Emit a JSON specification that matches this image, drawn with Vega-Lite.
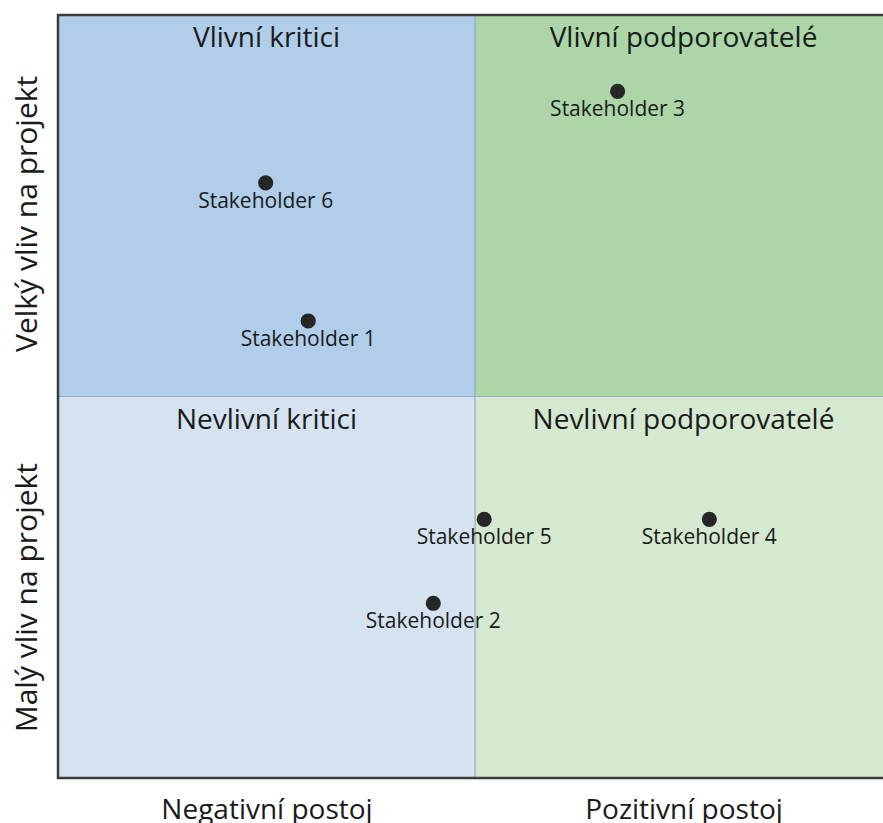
{
  "$schema": "https://vega.github.io/schema/vega-lite/v6.json",
  "width": 834,
  "height": 763,
  "autosize": {"type": "none"},
  "padding": {"left": 58, "top": 15, "right": 0, "bottom": 45},
  "background": "white",
  "view": {"stroke": null},
  "config": {
    "view": {"stroke": null},
    "font": "Open Sans",
    "axis": {"grid": false, "domain": false, "ticks": false, "tickSize": 0, "title": null, "labelFont": "Open Sans", "labelFontSize": 28, "labelColor": "#1a1a1a", "labelFlush": false, "labelOverlap": false, "labelBound": false, "labelLimit": 0}
  },
  "datasets": {
    "quadrants": [
      {"x": 0, "x2": 5, "cx": 2.5, "y": 5, "y2": 10, "name": "Vlivní kritici", "color": "#b0cde9"},
      {"x": 5, "x2": 10, "cx": 7.5, "y": 5, "y2": 10, "name": "Vlivní podporovatelé", "color": "#acd6a8"},
      {"x": 0, "x2": 5, "cx": 2.5, "y": 0, "y2": 5, "name": "Nevlivní kritici", "color": "#d5e2f0"},
      {"x": 5, "x2": 10, "cx": 7.5, "y": 0, "y2": 5, "name": "Nevlivní podporovatelé", "color": "#d4e9cf"}
    ],
    "lines": [
      {"x": 5, "x2": 5, "y": 0, "y2": 10},
      {"x": 0, "x2": 10, "y": 5, "y2": 5}
    ],
    "frame": [
      {"x": 0, "x2": 10, "y": 0, "y2": 10}
    ],
    "stakeholders": [
      {"name": "Stakeholder 1", "postoj": 3.0, "vliv": 5.99},
      {"name": "Stakeholder 2", "postoj": 4.5, "vliv": 2.29},
      {"name": "Stakeholder 3", "postoj": 6.71, "vliv": 9.0},
      {"name": "Stakeholder 4", "postoj": 7.81, "vliv": 3.39},
      {"name": "Stakeholder 5", "postoj": 5.11, "vliv": 3.39},
      {"name": "Stakeholder 6", "postoj": 2.49, "vliv": 7.8}
    ]
  },
  "layer": [
    {
      "data": {"name": "quadrants"},
      "mark": {"type": "rect"},
      "encoding": {
        "x": {"field": "x", "type": "quantitative", "scale": {"domain": [0, 10], "nice": false, "zero": false},
              "axis": {"values": [2.5, 7.5], "labelPadding": 40, "labelBaseline": "alphabetic", "labelAlign": "center",
                       "labelExpr": "datum.value < 5 ? 'Negativní postoj' : 'Pozitivní postoj'"}},
        "x2": {"field": "x2"},
        "y": {"field": "y", "type": "quantitative", "scale": {"domain": [0, 10], "nice": false, "zero": false},
              "axis": {"values": [2.37, 7.4], "labelFontSize": 30, "labelAngle": -90, "labelAlign": "center", "labelBaseline": "alphabetic", "labelPadding": 22,
                       "labelExpr": "datum.value > 5 ? 'Velký vliv na projekt' : 'Malý vliv na projekt'"}},
        "y2": {"field": "y2"},
        "color": {"field": "color", "type": "nominal", "scale": null}
      }
    },
    {
      "data": {"name": "lines"},
      "mark": {"type": "rule", "color": "#93abc8", "strokeWidth": 1.2},
      "encoding": {
        "x": {"field": "x", "type": "quantitative"},
        "x2": {"field": "x2"},
        "y": {"field": "y", "type": "quantitative"},
        "y2": {"field": "y2"}
      }
    },
    {
      "data": {"name": "frame"},
      "mark": {"type": "rect", "fill": null, "fillOpacity": 0, "stroke": "#3c3c3c", "strokeWidth": 2.5},
      "encoding": {
        "x": {"field": "x", "type": "quantitative"},
        "x2": {"field": "x2"},
        "y": {"field": "y", "type": "quantitative"},
        "y2": {"field": "y2"}
      }
    },
    {
      "data": {"name": "quadrants"},
      "mark": {"type": "text", "fontSize": 28, "color": "#1a1a1a", "baseline": "alphabetic", "align": "center", "dy": 32},
      "encoding": {
        "x": {"field": "cx", "type": "quantitative"},
        "y": {"field": "y2", "type": "quantitative"},
        "text": {"field": "name"}
      }
    },
    {
      "data": {"name": "stakeholders"},
      "mark": {"type": "circle", "size": 230, "color": "#262626", "opacity": 1},
      "encoding": {
        "x": {"field": "postoj", "type": "quantitative"},
        "y": {"field": "vliv", "type": "quantitative"}
      }
    },
    {
      "data": {"name": "stakeholders"},
      "mark": {"type": "text", "fontSize": 21, "color": "#1a1a1a", "baseline": "alphabetic", "align": "center", "dy": 25},
      "encoding": {
        "x": {"field": "postoj", "type": "quantitative"},
        "y": {"field": "vliv", "type": "quantitative"},
        "text": {"field": "name"}
      }
    }
  ]
}
